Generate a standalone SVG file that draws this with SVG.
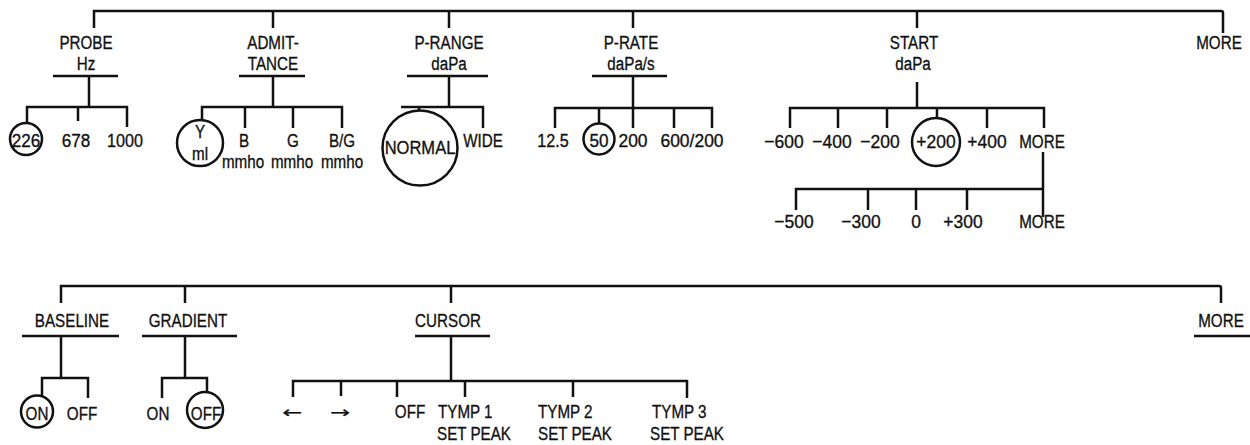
<svg xmlns="http://www.w3.org/2000/svg" width="1250" height="445" viewBox="0 0 1250 445">
<style>
.ln{fill:none;stroke:#111;stroke-width:2.5;stroke-linecap:butt;stroke-linejoin:miter}
.c{fill:none;stroke:#111;stroke-width:2.5}
text{font-family:"Liberation Sans",Arial,sans-serif;font-size:19px;fill:#111;stroke:#111;stroke-width:0.35;text-anchor:middle}
.s{text-anchor:start}
.ar{font-family:"DejaVu Sans",sans-serif;font-size:16px;stroke-width:0.2}
</style>
<rect width="1250" height="445" fill="#fff"/>
<g id="connectors">
<path class="ln" d="M94,28 V11 H1221 Q1223,11 1223,13 V33"/>
<path class="ln" d="M273,11 V28 M449,11 V28 M633,11 V28 M917,11 V28"/>
<path class="ln" d="M89,76 V107 M27,123 V107 H127 V127 M78,107 V121"/>
<path class="ln" d="M273,76 V107 M202,120 V107 H342 V128 M245,107 V128 M293,107 V128"/>
<path class="ln" d="M449,76 V107 M401,107 H483 V128 M419,107 V110"/>
<path class="ln" d="M633,76 V108 M555,128 V108 H712 V128 M599,108 V123.5 M633,108 V128 M674,108 V128"/>
<path class="ln" d="M917,82 V108 M790,128 V108 H1044 V128 M838,108 V128 M887,108 V128 M937,108 V118 M987,108 V128"/>
<path class="ln" d="M1043,152 V217 M796,210 V189 H1043 M868,189 V210 M916,189 V210 M967,189 V210"/>
<path class="ln" d="M61,303 V286 H1219 Q1221,286 1221,288 V303 M185,286 V303 M451,286 V303"/>
<path class="ln" d="M61,336 V378 M42,396 V378 H88 V398"/>
<path class="ln" d="M185,336 V378 M162,398 V378 H207 V392"/>
<path class="ln" d="M451,336 V381 M293,397 V381 H687 V398 M341,381 V396 M397,381 V397 M465,381 V397 M573,381 V397"/>
</g>
<g id="probe">
<text transform="matrix(.8,0,0,1,86,49)">PROBE</text>
<text transform="matrix(.8,0,0,1,86,70)">Hz</text>
<path class="ln" d="M53,76 H118"/>
<circle class="c" cx="26" cy="139" r="16"/>
<text transform="matrix(.9,0,0,1,26,147)">226</text>
<text transform="matrix(.9,0,0,1,76,147)">678</text>
<text transform="matrix(.85,0,0,1,125,147)">1000</text>
</g>
<g id="admittance">
<text transform="matrix(.8,0,0,1,273,49)">ADMIT-</text>
<text transform="matrix(.8,0,0,1,273,70)">TANCE</text>
<path class="ln" d="M239,76 H305"/>
<circle class="c" cx="200" cy="143" r="23"/>
<text transform="matrix(.8,0,0,1,200,138)">Y</text>
<text transform="matrix(.8,0,0,1,200,160)">ml</text>
<text transform="matrix(.8,0,0,1,244,147)">B</text>
<text transform="matrix(.8,0,0,1,243,168)">mmho</text>
<text transform="matrix(.8,0,0,1,293,147)">G</text>
<text transform="matrix(.8,0,0,1,292,168)">mmho</text>
<text transform="matrix(.8,0,0,1,342,147)">B/G</text>
<text transform="matrix(.8,0,0,1,342,168)">mmho</text>
</g>
<g id="prange">
<text transform="matrix(.8,0,0,1,449,49)">P-RANGE</text>
<text transform="matrix(.8,0,0,1,449,70)">daPa</text>
<path class="ln" d="M407,76 H488"/>
<circle class="c" cx="420" cy="148" r="37.5"/>
<text transform="matrix(.87,0,0,1,420,154)">NORMAL</text>
<text transform="matrix(.8,0,0,1,483,147)">WIDE</text>
</g>
<g id="prate">
<text transform="matrix(.8,0,0,1,631,49)">P-RATE</text>
<text transform="matrix(.8,0,0,1,631,70)">daPa/s</text>
<path class="ln" d="M592,76 H667"/>
<text transform="matrix(.85,0,0,1,553,147)">12.5</text>
<circle class="c" cx="599" cy="139" r="15.5"/>
<text transform="matrix(.9,0,0,1,599,147)">50</text>
<text transform="matrix(.92,0,0,1,633,147)">200</text>
<text transform="matrix(.92,0,0,1,692,147)">600/200</text>
</g>
<g id="start">
<text transform="matrix(.8,0,0,1,914,49)">START</text>
<text transform="matrix(.8,0,0,1,913,70)">daPa</text>
<text transform="matrix(.92,0,0,1,784,148)">−600</text>
<text transform="matrix(.92,0,0,1,832,148)">−400</text>
<text transform="matrix(.92,0,0,1,880,148)">−200</text>
<circle class="c" cx="936" cy="142" r="24"/>
<text transform="matrix(.92,0,0,1,936,148)">+200</text>
<text transform="matrix(.92,0,0,1,987,148)">+400</text>
<text transform="matrix(.8,0,0,1,1042,148)">MORE</text>
</g>
<g id="start-more">
<text transform="matrix(.92,0,0,1,794,228)">−500</text>
<text transform="matrix(.92,0,0,1,861,228)">−300</text>
<text transform="matrix(.92,0,0,1,916,228)">0</text>
<text transform="matrix(.92,0,0,1,963,228)">+300</text>
<text transform="matrix(.8,0,0,1,1042,228)">MORE</text>
</g>
<g id="more-top">
<text transform="matrix(.8,0,0,1,1219,49)">MORE</text>
</g>
<g id="baseline">
<text transform="matrix(.8,0,0,1,72,327)">BASELINE</text>
<path class="ln" d="M22,336 H119"/>
<circle class="c" cx="37" cy="411.5" r="16"/>
<text transform="matrix(.8,0,0,1,37,420)">ON</text>
<text transform="matrix(.8,0,0,1,82,420)">OFF</text>
</g>
<g id="gradient">
<text transform="matrix(.8,0,0,1,188,327)">GRADIENT</text>
<path class="ln" d="M142,336 H237"/>
<text transform="matrix(.8,0,0,1,158,420)">ON</text>
<circle class="c" cx="205" cy="410" r="18"/>
<text transform="matrix(.8,0,0,1,206,420)">OFF</text>
</g>
<g id="cursor">
<text transform="matrix(.8,0,0,1,448,327)">CURSOR</text>
<path class="ln" d="M415,336 H490"/>
<text class="ar" transform="matrix(1.5,0,0,1,292,418)">←</text>
<text class="ar" transform="matrix(1.5,0,0,1,340,418)">→</text>
<text transform="matrix(.8,0,0,1,410,418)">OFF</text>
<text class="s" transform="matrix(.8,0,0,1,438,418)">TYMP 1</text>
<text class="s" transform="matrix(.8,0,0,1,437,440)">SET PEAK</text>
<text class="s" transform="matrix(.8,0,0,1,538,418)">TYMP 2</text>
<text class="s" transform="matrix(.8,0,0,1,538,440)">SET PEAK</text>
<text class="s" transform="matrix(.8,0,0,1,652,418)">TYMP 3</text>
<text class="s" transform="matrix(.8,0,0,1,650,440)">SET PEAK</text>
</g>
<g id="more-bottom">
<text transform="matrix(.8,0,0,1,1221,327)">MORE</text>
<path class="ln" d="M1194,336 H1250"/>
</g>
</svg>
